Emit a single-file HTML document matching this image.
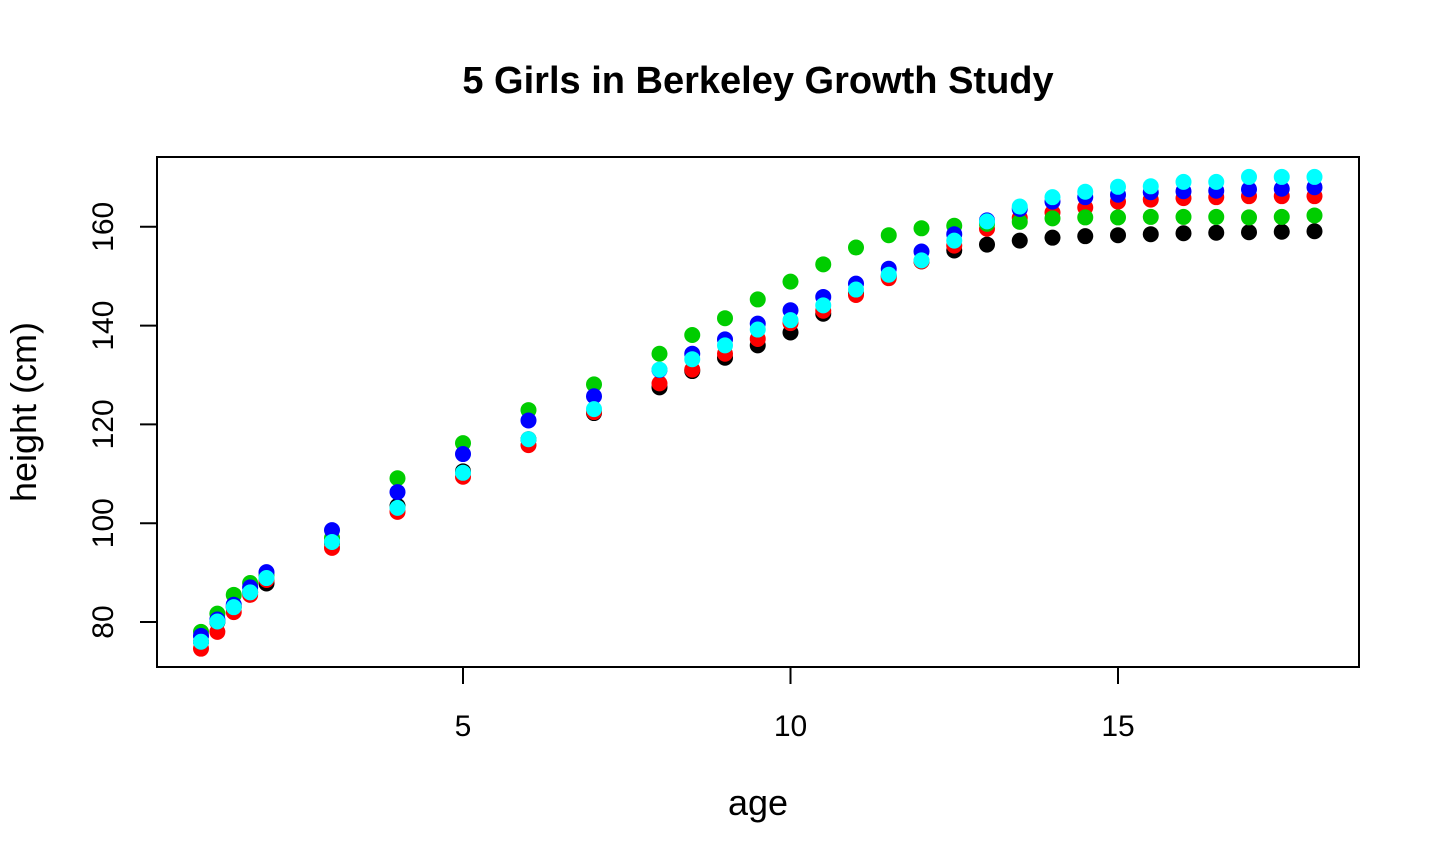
<!DOCTYPE html>
<html><head><meta charset="utf-8"><style>
body{margin:0;background:#fff;}
svg{display:block;font-family:"Liberation Sans",sans-serif;}
</style></head><body>
<svg id="chart" width="1440" height="864">
<text x="758" y="93" text-anchor="middle" font-size="38" font-weight="bold">5 Girls in Berkeley Growth Study</text>
<rect x="157" y="157" width="1202" height="510" fill="none" stroke="#000" stroke-width="2"/>
<g id="xaxis"></g>
<g id="yaxis"></g>
<text x="758" y="815" text-anchor="middle" font-size="36">age</text>
<text transform="translate(36,412) rotate(-90)" text-anchor="middle" font-size="36">height (cm)</text>
<g id="points"></g>
</svg>
<script>
const ages=[1,1.25,1.5,1.75,2,3,4,5,6,7,8,8.5,9,9.5,10,10.5,11,11.5,12,12.5,13,13.5,14,14.5,15,15.5,16,16.5,17,17.5,18];
const girl1=[76,80,83,86,87.8,96,103.5,110.5,117,122.3,127.5,130.8,133.5,136,138.6,142.4,146.5,150,153,155.2,156.4,157.2,157.8,158.1,158.3,158.5,158.7,158.8,158.9,159,159.1];
const girl2=[74.6,78,82,85.5,88.5,95,102.3,109.4,115.8,122.5,128.3,131.1,134.3,137.3,140.5,143,146.2,149.6,153,156.2,159.6,161.8,162.9,163.9,165.1,165.5,165.8,166,166.2,166.2,166.2];
const girl3=[78,81.7,85.5,87.9,89.5,97,109.1,116.2,122.9,128.1,134.3,138.1,141.5,145.3,148.9,152.4,155.8,158.3,159.7,160.2,160.6,161,161.7,161.9,161.9,162,162,162,161.9,162,162.3];
const girl4=[77.2,80.5,83.5,87,90.1,98.6,106.3,114,120.8,125.7,131,134.3,137.2,140.4,143.1,145.8,148.5,151.5,155,158.5,161.3,163.6,165.1,166,166.5,167,167.2,167.3,167.6,167.7,168];
const girl5=[76,80.1,83,86,88.9,96.2,103.1,110.2,117,123.1,131.1,133.2,136,139.2,141.1,144.1,147.3,150.3,153.2,157.2,161.1,164.1,166,167.1,168.1,168.2,169.1,169.1,170.1,170.1,170.1];
const series=[girl1,girl2,girl3,girl4,girl5];
const colors=["#000000","#ff0000","#00cd00","#0000ff","#00ffff"];
const xTicks=[5,10,15];
const yTicks=[80,100,120,140,160];
const NS="http://www.w3.org/2000/svg";
const xs=a=>201+(a-1)*65.5;
const ys=v=>622-(v-80)*4.94;
function mk(tag,at,parent){const e=document.createElementNS(NS,tag);for(const k in at)e.setAttribute(k,at[k]);parent.appendChild(e);return e;}
const xa=document.getElementById('xaxis');
mk('line',{x1:xs(5),x2:xs(15),y1:667,y2:667,stroke:'#000','stroke-width':2},xa);
xTicks.forEach(t=>{
 const l=mk('line',{x1:xs(t),x2:xs(t),y1:667,y2:684,stroke:'#000','stroke-width':2},xa);
 
 
 const tx=mk('text',{x:xs(t),y:736,'text-anchor':'middle','font-size':30},xa);
 tx.textContent=t;
 
 
});
const ya=document.getElementById('yaxis');
mk('line',{x1:157,x2:157,y1:ys(80),y2:ys(160),stroke:'#000','stroke-width':2},ya);
yTicks.forEach(t=>{
 const l=mk('line',{x1:140,x2:157,y1:ys(t),y2:ys(t),stroke:'#000','stroke-width':2},ya);
 
 
 const tx=mk('text',{transform:`translate(113,${ys(t)}) rotate(-90)`,'text-anchor':'middle','font-size':30},ya);
 tx.textContent=t;
 
 
});
const pg=document.getElementById('points');
series.forEach((s,i)=>{
 s.forEach((v,j)=>{
  const c=mk('circle',{cx:xs(ages[j]),cy:ys(v),r:8,fill:colors[i]},pg);
  
  
 });
});
</script>
</body></html>
